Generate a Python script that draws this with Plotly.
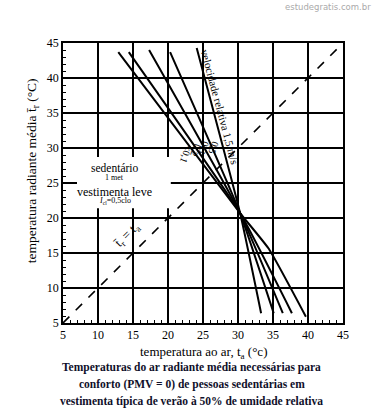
import plotly.graph_objects as go

# ---- data ----
axis_ticks = [5, 10, 15, 20, 25, 30, 35, 40, 45]
velocity_labels = ["<0,1", "0,2", "0,3", "0,5", "1,5"]
curve_x = [
    [12.9, 30.3, 34.4, 39.7],   # <0,1
    [14.4, 30.3, 37.7],          # 0,2
    [17.3, 30.3, 36.4],          # 0,3
    [20.3, 30.3, 35.1],          # 0,5
    [24.1, 30.3, 33.3],          # 1,5
]
curve_y = [
    [43.7, 20.7, 15.6, 5.9],
    [43.7, 20.7, 6.4],
    [44.0, 20.7, 6.4],
    [43.7, 20.7, 6.4],
    [44.3, 20.7, 6.4],
]
diag_x = [5, 45]
diag_y = [5, 45]
label_pos_x = [22.6, 24.0, 25.2, 26.6]
label_pos_y = [29.1, 29.7, 30.0, 30.0]
caption_lines = [
    "Temperaturas do ar radiante média necessárias para",
    "conforto (PMV = 0) de pessoas sedentárias em",
    "vestimenta típica de verão à 50% de umidade relativa",
]

SERIF = "Liberation Serif, Times New Roman, serif"

fig = go.Figure()

# dashed equality line
fig.add_trace(go.Scatter(x=diag_x, y=diag_y, mode="lines",
                         line=dict(color="black", width=1.6, dash="dash"),
                         hoverinfo="skip", showlegend=False))

for xs, ys in zip(curve_x, curve_y):
    fig.add_trace(go.Scatter(x=xs, y=ys, mode="lines",
                             line=dict(color="black", width=2, shape="spline", smoothing=0.4),
                             hoverinfo="skip", showlegend=False))

# white box behind the legend text
fig.add_shape(type="rect", x0=7.0, x1=20.4, y0=21.4, y1=28.7,
              fillcolor="white", line=dict(width=0), layer="above")

ann = []
# velocity labels
for lab, lx, ly in zip(velocity_labels[:4], label_pos_x, label_pos_y):
    ann.append(dict(x=lx, y=ly, text=lab, showarrow=False, textangle=110,
                    font=dict(family=SERIF, size=10, color="black")))
ann.append(dict(x=27.45, y=35.9, text="velocidade relativa 1,5 m/s", showarrow=False,
                textangle=75, font=dict(family=SERIF, size=11, color="black")))

# legend text
ann += [
    dict(x=12.4, y=27.15, text="sedentário", showarrow=False,
         font=dict(family=SERIF, size=11.5, color="black")),
    dict(x=12.4, y=25.75, text="1 met", showarrow=False,
         font=dict(family=SERIF, size=8, color="black")),
    dict(x=12.4, y=23.75, text="vestimenta leve", showarrow=False,
         font=dict(family=SERIF, size=12, color="black")),
    dict(x=12.4, y=22.5, text="<i>I</i><sub>cl</sub>=0,5clo", showarrow=False,
         font=dict(family=SERIF, size=8, color="black")),
]
# t_r = t_a label
ann.append(dict(x=14.1, y=17.5, text="t̄<sub>r</sub> = t<sub>a</sub>", showarrow=False,
                textangle=-45, font=dict(family=SERIF, size=13, color="black")))

# axis titles
ann.append(dict(xref="paper", yref="paper", x=0.5, y=-0.105, yanchor="middle",
                text="temperatura ao ar, t<sub>a</sub> (°c)", showarrow=False,
                font=dict(family=SERIF, size=13, color="black")))
ann.append(dict(xref="paper", yref="paper", x=-0.108, y=0.545, xanchor="center",
                text="temperatura radiante média t̄<sub>r</sub> (°C)", showarrow=False,
                textangle=-90, font=dict(family=SERIF, size=13.5, color="black")))

# caption (one annotation per line)
for txt, cy in zip(caption_lines, [-0.1607, -0.2214, -0.282]):
    ann.append(dict(xref="paper", yref="paper", x=0.46, y=cy, yanchor="middle",
                    text="<b>" + txt + "</b>", showarrow=False,
                    font=dict(family=SERIF, size=11.5, color="#10102a")))
# watermark
ann.append(dict(xref="paper", yref="paper", x=1.107, y=1.1286, xanchor="right",
                yanchor="middle", text="estudegratis.com.br", showarrow=False,
                font=dict(family="DejaVu Sans, sans-serif", size=8.5, color="#aaaaaa")))

axis_common = dict(
    range=[5, 45], tickvals=axis_ticks, showgrid=True, gridcolor="black", gridwidth=1.8,
    zeroline=False, showline=True, linecolor="black", linewidth=1.8, mirror=True,
    ticks="inside", ticklen=4, tickcolor="black", tickwidth=1,
    minor=dict(dtick=1, ticks="inside", ticklen=3, tickcolor="black", showgrid=False),
    tickfont=dict(family=SERIF, size=12, color="black"),
)

fig.update_layout(
    width=377, height=415,
    margin=dict(l=63, r=34, t=43, b=92),
    paper_bgcolor="white", plot_bgcolor="white",
    xaxis=dict(**axis_common),
    yaxis=dict(**axis_common),
    annotations=ann,
    showlegend=False,
)

fig.write_html("out.html", config={"displayModeBar": False},
               post_script="document.body.style.margin='0';")
